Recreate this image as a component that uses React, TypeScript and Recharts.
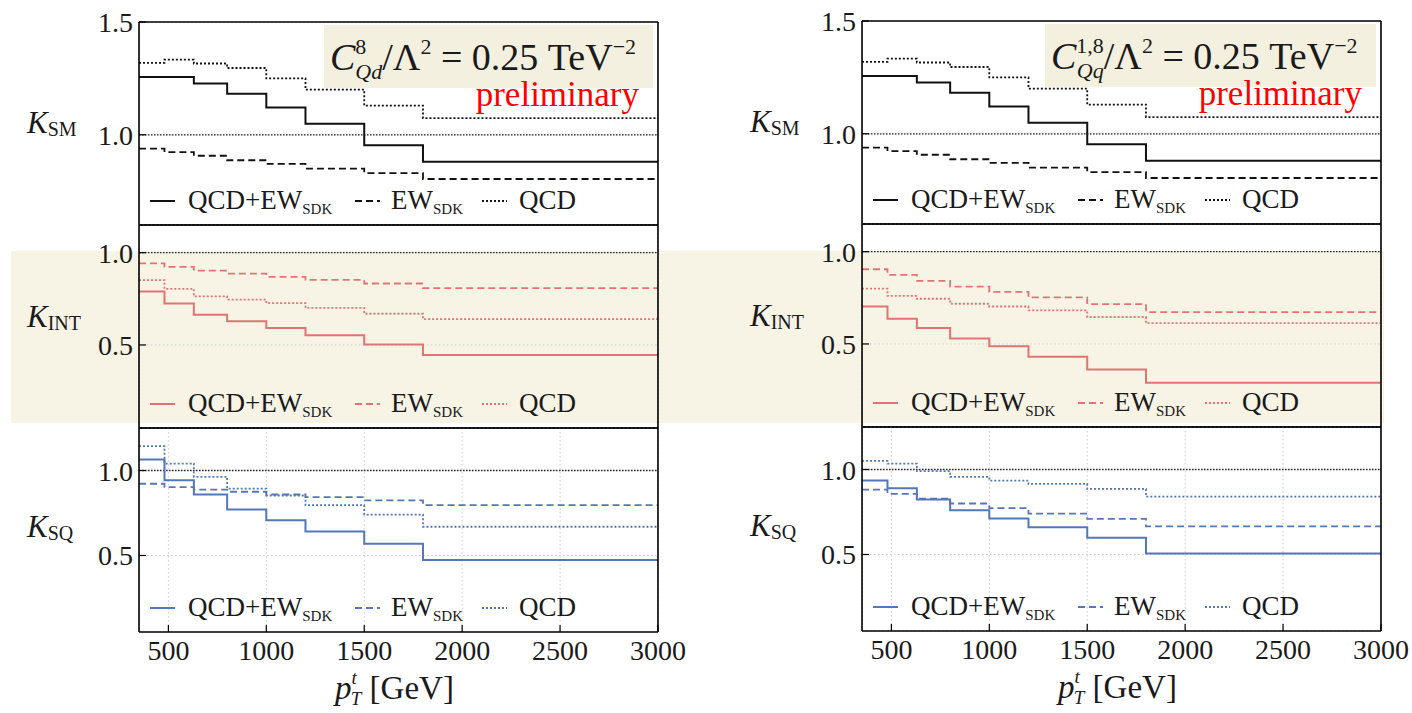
import React from 'react';
import { LineChart, Line, XAxis, YAxis, CartesianGrid, ReferenceLine } from 'recharts';

// pT bins (GeV), 8 bins -> 9 edges
const binEdges = [350, 480, 630, 800, 1000, 1200, 1500, 1800, 3000];
const xDomain = [350, 3000];
const xMajorTicks = [500, 1000, 1500, 2000, 2500, 3000];
const xMinorTicks = [400, 500, 600, 700, 800, 900, 1000, 1100, 1200, 1300, 1400, 1500, 1600, 1700, 1800, 1900, 2000, 2100, 2200, 2300, 2400, 2500, 2600, 2700, 2800, 2900, 3000];

const smMajorTicks = [1.0, 1.5];
const smMinorTicks = [0.6, 0.7, 0.8, 0.9, 1.0, 1.1, 1.2, 1.3, 1.4, 1.5];
const intMajorTicks = [0.5, 1.0];
const intMinorTicks = [0.1, 0.2, 0.3, 0.4, 0.5, 0.6, 0.7, 0.8, 0.9, 1.0, 1.1];
const sqMajorTicks = [0.5, 1.0];
const sqMinorTicks = [0.1, 0.2, 0.3, 0.4, 0.5, 0.6, 0.7, 0.8, 0.9, 1.0, 1.1, 1.2];

const unity = 1;

// K_SM (same for both operators)
const smFull = [1.256, 1.256, 1.227, 1.182, 1.121, 1.049, 0.954, 0.88];
const smEw = [0.939, 0.923, 0.907, 0.887, 0.871, 0.85, 0.83, 0.804];
const smQcd = [1.319, 1.333, 1.316, 1.296, 1.25, 1.2, 1.129, 1.074];

// C_Qd^8
const qdIntFull = [0.79, 0.725, 0.664, 0.628, 0.592, 0.552, 0.502, 0.446];
const qdIntEw = [0.942, 0.923, 0.903, 0.887, 0.869, 0.853, 0.833, 0.808];
const qdIntQcd = [0.851, 0.804, 0.763, 0.746, 0.727, 0.701, 0.669, 0.64];
const qdSqFull = [1.065, 0.943, 0.859, 0.771, 0.708, 0.641, 0.569, 0.473];
const qdSqEw = [0.922, 0.902, 0.888, 0.875, 0.859, 0.843, 0.824, 0.796];
const qdSqQcd = [1.143, 1.041, 0.963, 0.894, 0.853, 0.796, 0.741, 0.669];

// C_Qq^{1,8}
const qqIntFull = [0.703, 0.637, 0.586, 0.529, 0.487, 0.43, 0.361, 0.29];
const qqIntEw = [0.905, 0.874, 0.842, 0.811, 0.782, 0.752, 0.716, 0.673];
const qqIntQcd = [0.8, 0.761, 0.745, 0.718, 0.703, 0.682, 0.646, 0.613];
const qqSqFull = [0.935, 0.89, 0.824, 0.761, 0.712, 0.661, 0.598, 0.506];
const qqSqEw = [0.882, 0.857, 0.829, 0.8, 0.773, 0.741, 0.71, 0.665];
const qqSqQcd = [1.051, 1.035, 0.99, 0.957, 0.935, 0.916, 0.886, 0.841];

const FONT = "'Liberation Serif', 'DejaVu Serif', serif";
const PLOT_W = 519;
const AX = 0.01; // axes take (almost) no room, plot area = margins
const BLACK = '#111111';
const RED = '#e07474';
const BLUE = '#5577b8';

// one point per bin edge; last edge repeats the last bin so stepAfter closes the histogram
const toSteps = (full: number[], ew: number[], qcd: number[]) =>
  binEdges.map((x, i) => {
    const k = Math.min(i, full.length - 1);
    return { x, full: full[k], ew: ew[k], qcd: qcd[k] };
  });

const rows = [
  { key: 'sm', top: 22, h: 203, domain: [0.6, 1.5], major: smMajorTicks, minor: smMinorTicks, color: BLACK, label: 'SM', labelY: 133 },
  { key: 'int', top: 225, h: 203, domain: [0.05, 1.15], major: intMajorTicks, minor: intMinorTicks, color: RED, label: 'INT', labelY: 327 },
  { key: 'sq', top: 428, h: 204, domain: [0.05, 1.25], major: sqMajorTicks, minor: sqMinorTicks, color: BLUE, label: 'SQ', labelY: 537 },
];

const columns = [
  {
    left: 139, shift: 0, sup: '8', sub: 'Qd', boxLeft: 324, textLeft: 330,
    data: { sm: toSteps(smFull, smEw, smQcd), int: toSteps(qdIntFull, qdIntEw, qdIntQcd), sq: toSteps(qdSqFull, qdSqEw, qdSqQcd) } as Record<string, any[]>,
  },
  {
    left: 862, shift: -1, sup: '1,8', sub: 'Qq', boxLeft: 1045, textLeft: 1051,
    data: { sm: toSteps(smFull, smEw, smQcd), int: toSteps(qqIntFull, qqIntEw, qqIntQcd), sq: toSteps(qqSqFull, qqSqEw, qqSqQcd) } as Record<string, any[]>,
  },
];

const XTick = (props: any) => (
  <text x={props.x} y={props.y} dy={20} textAnchor="middle" fontSize={28} fill="#1a1a1a" fontFamily={FONT}>
    {props.payload.value}
  </text>
);

const YTick = (props: any) => (
  <text x={props.x} y={props.y} dy={10} textAnchor="end" fontSize={28} fill="#1a1a1a" fontFamily={FONT}>
    {Number(props.payload.value).toFixed(1)}
  </text>
);

function Panel({ plotLeft, plotTop, plotH, yDomain, yMajor, yMinor, data, color, showXLabels }: any) {
  const ml = 90, mr = 40, mt = 25, mb = showXLabels ? 45 : 12;
  const tl = { stroke: '#000', strokeWidth: 1.2 };
  const frame = { stroke: '#000', strokeWidth: 1.6 };
  return (
    <div style={{ position: 'absolute', left: plotLeft - ml, top: plotTop - mt }}>
      <LineChart width={PLOT_W + ml + mr} height={plotH + mt + mb} data={data} margin={{ top: mt, right: mr, bottom: mb, left: ml }}>
        <CartesianGrid xAxisId="x" yAxisId="y" stroke="#cccccc" strokeDasharray="1.5 2.5" />
        <XAxis xAxisId="x" dataKey="x" type="number" domain={xDomain} ticks={xMajorTicks} allowDataOverflow interval={0}
          height={AX} tickSize={-7} tickMargin={15} tick={showXLabels ? XTick : false} tickLine={tl} axisLine={frame} />
        <XAxis xAxisId="xb" dataKey="x" type="number" domain={xDomain} ticks={xMinorTicks} allowDataOverflow interval={0}
          height={AX} tickSize={-4} tick={false} tickLine={tl} axisLine={false} />
        <XAxis xAxisId="xt" orientation="top" dataKey="x" type="number" domain={xDomain} ticks={xMajorTicks} allowDataOverflow interval={0}
          height={AX} tickSize={-7} tick={false} tickLine={tl} axisLine={frame} />
        <XAxis xAxisId="xt2" orientation="top" dataKey="x" type="number" domain={xDomain} ticks={xMinorTicks} allowDataOverflow interval={0}
          height={AX} tickSize={-4} tick={false} tickLine={tl} axisLine={false} />
        <YAxis yAxisId="y" type="number" domain={yDomain} ticks={yMajor} allowDataOverflow interval={0}
          width={AX} tickSize={-7} tickMargin={13} tick={YTick} tickLine={tl} axisLine={frame} />
        <YAxis yAxisId="yl" type="number" domain={yDomain} ticks={yMinor} allowDataOverflow interval={0}
          width={AX} tickSize={-4} tick={false} tickLine={tl} axisLine={false} />
        <YAxis yAxisId="yr" orientation="right" type="number" domain={yDomain} ticks={yMajor} allowDataOverflow interval={0}
          width={AX} tickSize={-7} tick={false} tickLine={tl} axisLine={frame} />
        <YAxis yAxisId="yr2" orientation="right" type="number" domain={yDomain} ticks={yMinor} allowDataOverflow interval={0}
          width={AX} tickSize={-4} tick={false} tickLine={tl} axisLine={false} />
        <ReferenceLine xAxisId="x" yAxisId="y" y={unity} stroke="#222" strokeWidth={1.3} strokeDasharray="1.5 1.5" />
        <Line xAxisId="x" yAxisId="y" dataKey="qcd" type="stepAfter" stroke={color} strokeWidth={1.8} strokeDasharray="2 2" dot={false} isAnimationActive={false} />
        <Line xAxisId="x" yAxisId="y" dataKey="ew" type="stepAfter" stroke={color} strokeWidth={1.8} strokeDasharray="7 4" dot={false} isAnimationActive={false} />
        <Line xAxisId="x" yAxisId="y" dataKey="full" type="stepAfter" stroke={color} strokeWidth={2} dot={false} isAnimationActive={false} />
      </LineChart>
    </div>
  );
}

function PanelLegend({ x, y, color }: { x: number; y: number; color: string }) {
  const text = { fontSize: 27, fill: '#1a1a1a', fontFamily: FONT };
  return (
    <g>
      <line x1={x + 11} x2={x + 36} y1={y} y2={y} stroke={color} strokeWidth={2} />
      <text x={x + 49} y={y + 8} {...text}>QCD+EW<tspan fontSize={15} dy={5}>SDK</tspan></text>
      <line x1={x + 216} x2={x + 241} y1={y} y2={y} stroke={color} strokeWidth={1.8} strokeDasharray="7 4" />
      <text x={x + 252} y={y + 8} {...text}>EW<tspan fontSize={15} dy={5}>SDK</tspan></text>
      <line x1={x + 343} x2={x + 368} y1={y} y2={y} stroke={color} strokeWidth={1.8} strokeDasharray="2 2" />
      <text x={x + 380} y={y + 8} {...text}>QCD</text>
    </g>
  );
}

export default function App() {
  return (
    <div style={{ position: 'absolute', left: 0, top: 0, width: 1412, height: 713, background: '#fff', overflow: 'hidden', fontFamily: FONT }}>
      {/* shaded band behind the interference row */}
      <div style={{ position: 'absolute', left: 11, top: 251, width: 1373, height: 172, background: '#f7f4e6' }} />

      {columns.map((col, ci) =>
        rows.map((r, ri) => (
          <Panel key={`${ci}-${r.key}`} plotLeft={col.left} plotTop={r.top + col.shift} plotH={r.h}
            yDomain={r.domain} yMajor={r.major} yMinor={r.minor} data={col.data[r.key]} color={r.color}
            showXLabels={ri === rows.length - 1} />
        ))
      )}

      <svg width={1412} height={713} style={{ position: 'absolute', left: 0, top: 0, pointerEvents: 'none' }}>
        {columns.map((col, ci) => {
          const right = col.left + PLOT_W;
          return (
            <g key={ci} style={{ whiteSpace: 'pre' }}>
              {rows.map((r) => (
                <g key={r.key}>
                  <PanelLegend x={col.left} y={r.top + col.shift + r.h - 24} color={r.color} />
                  <text x={col.left - 112} y={r.labelY + col.shift} fontSize={31} fill="#1a1a1a" fontFamily={FONT}>
                    <tspan fontStyle="italic">K</tspan>
                    <tspan fontSize={20} dy={3}>{r.label}</tspan>
                  </text>
                </g>
              ))}

              {/* x axis title */}
              <text x={col.left + 196} y={699 + col.shift} fontSize={33} fill="#1a1a1a" fontFamily={FONT}>
                <tspan fontStyle="italic">p</tspan>
                <tspan fontSize={19} fontStyle="italic" dy={-15}>t</tspan>
                <tspan fontSize={19} fontStyle="italic" dx={-6} dy={21}>T</tspan>
                <tspan dy={-6}>{'  [GeV]'}</tspan>
              </text>

              {/* operator annotation */}
              <rect x={col.boxLeft} y={25 + col.shift} width={right - 5 - col.boxLeft} height={63} fill="#f4f0df" />
              <text x={col.textLeft} y={70 + col.shift} fontSize={38} fill="#1a1a1a" fontFamily={FONT}>
                <tspan fontStyle="italic">C</tspan>
                <tspan fontSize={22} dy={-16}>{col.sup}</tspan>
                <tspan fontSize={22} fontStyle="italic" dx={-(col.sup.length > 1 ? 27 : 11)} dy={25}>{col.sub}</tspan>
                <tspan dy={-9}>/Λ</tspan>
                <tspan fontSize={22} dy={-16}>2</tspan>
                <tspan dy={16}>{' = 0.25 TeV'}</tspan>
                <tspan fontSize={22} dy={-16}>−2</tspan>
              </text>
              <text x={right - 19} y={106 + col.shift} textAnchor="end" fontSize={35} fill="#ff0000" fontFamily={FONT}>preliminary</text>
            </g>
          );
        })}
      </svg>
    </div>
  );
}
